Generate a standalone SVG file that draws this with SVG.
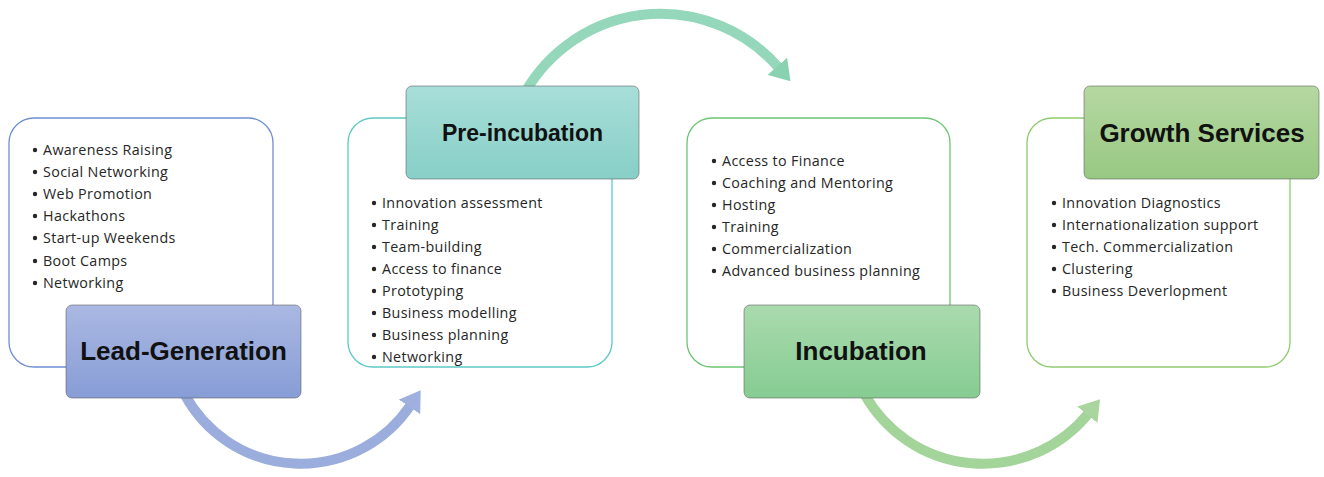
<svg xmlns="http://www.w3.org/2000/svg" width="1324" height="477" viewBox="0 0 1324 477">
<style>
.outer{fill:#fff;stroke-width:1.3}
.hdr{stroke:#5a5a5a;stroke-opacity:.55;stroke-width:1}
.item{font-family:"Open Sans","Liberation Sans",sans-serif;font-size:14.3px;letter-spacing:0.35px;fill:#262626}
.title{font-family:"Liberation Sans",Arial,sans-serif;font-weight:bold;font-size:26px;fill:#111;text-anchor:middle}
.arc{fill:none;stroke-width:10}
.dot{fill:#262626}
</style>
<defs>
<linearGradient id="gBlue" x1="0" y1="0" x2="0" y2="1"><stop offset="0" stop-color="#aab8e2"/><stop offset="1" stop-color="#879dd6"/></linearGradient>
<linearGradient id="gTeal" x1="0" y1="0" x2="0" y2="1"><stop offset="0" stop-color="#a8ded9"/><stop offset="1" stop-color="#87cfc7"/></linearGradient>
<linearGradient id="gGreen" x1="0" y1="0" x2="0" y2="1"><stop offset="0" stop-color="#aadaae"/><stop offset="1" stop-color="#86cc92"/></linearGradient>
<linearGradient id="gLime" x1="0" y1="0" x2="0" y2="1"><stop offset="0" stop-color="#b6d8a2"/><stop offset="1" stop-color="#97c882"/></linearGradient>
<marker id="mBlue" markerUnits="userSpaceOnUse" markerWidth="20" markerHeight="26" viewBox="0 0 20 26" refX="1" refY="13" orient="auto"><path d="M0,0 L20,13 L0,26 z" fill="#9fb0df"/></marker>
<marker id="mTeal" markerUnits="userSpaceOnUse" markerWidth="20" markerHeight="26" viewBox="0 0 20 26" refX="1" refY="13" orient="auto"><path d="M0,0 L20,13 L0,26 z" fill="#88d2b2"/></marker>
<marker id="mGreen" markerUnits="userSpaceOnUse" markerWidth="20" markerHeight="26" viewBox="0 0 20 26" refX="1" refY="13" orient="auto"><path d="M0,0 L20,13 L0,26 z" fill="#aad59e"/></marker>
</defs>
<rect width="1324" height="477" fill="#fff"/>

<g id="connectors">
<path class="arc" d="M185 395 A132 132 0 0 0 410 406" stroke="#9aaddd" marker-end="url(#mBlue)"/>
<path class="arc" d="M521 100 A156 156 0 0 1 778 67" stroke="#95d7bb" marker-end="url(#mTeal)"/>
<path class="arc" d="M865 395 A135.7 135.7 0 0 0 1088 414" stroke="#a3d49a" marker-end="url(#mGreen)"/>
</g>

<g id="lead-generation">
<rect class="outer" x="9" y="118" width="264" height="249" rx="25" stroke="#6f8fd4"/>
<g class="item">
<circle class="dot" cx="35" cy="150" r="2.2"/><text x="43" y="155">Awareness Raising</text>
<circle class="dot" cx="35" cy="172" r="2.2"/><text x="43" y="177">Social Networking</text>
<circle class="dot" cx="35" cy="194" r="2.2"/><text x="43" y="199">Web Promotion</text>
<circle class="dot" cx="35" cy="216" r="2.2"/><text x="43" y="221">Hackathons</text>
<circle class="dot" cx="35" cy="238" r="2.2"/><text x="43" y="243">Start-up Weekends</text>
<circle class="dot" cx="35" cy="261" r="2.2"/><text x="43" y="266">Boot Camps</text>
<circle class="dot" cx="35" cy="283" r="2.2"/><text x="43" y="288">Networking</text>
</g>
<rect class="hdr" x="66" y="305" width="235" height="93" rx="6" fill="url(#gBlue)"/>
<text class="title" x="183.5" y="360">Lead-Generation</text>
</g>

<g id="pre-incubation">
<rect class="outer" x="348" y="118" width="264" height="249" rx="25" stroke="#5ec9c3"/>
<g class="item">
<circle class="dot" cx="374" cy="203" r="2.2"/><text x="382" y="208">Innovation assessment</text>
<circle class="dot" cx="374" cy="225" r="2.2"/><text x="382" y="230">Training</text>
<circle class="dot" cx="374" cy="247" r="2.2"/><text x="382" y="252">Team-building</text>
<circle class="dot" cx="374" cy="269" r="2.2"/><text x="382" y="274">Access to finance</text>
<circle class="dot" cx="374" cy="291" r="2.2"/><text x="382" y="296">Prototyping</text>
<circle class="dot" cx="374" cy="313" r="2.2"/><text x="382" y="318">Business modelling</text>
<circle class="dot" cx="374" cy="335" r="2.2"/><text x="382" y="340">Business planning</text>
<circle class="dot" cx="374" cy="357" r="2.2"/><text x="382" y="362">Networking</text>
</g>
<rect class="hdr" x="406" y="86" width="233" height="93" rx="6" fill="url(#gTeal)"/>
<text class="title" x="522.5" y="141" style="font-size:23px">Pre-incubation</text>
</g>

<g id="incubation">
<rect class="outer" x="687" y="118" width="263" height="249" rx="25" stroke="#6cc673"/>
<g class="item">
<circle class="dot" cx="714" cy="161" r="2.2"/><text x="722" y="166">Access to Finance</text>
<circle class="dot" cx="714" cy="183" r="2.2"/><text x="722" y="188">Coaching and Mentoring</text>
<circle class="dot" cx="714" cy="205" r="2.2"/><text x="722" y="210">Hosting</text>
<circle class="dot" cx="714" cy="227" r="2.2"/><text x="722" y="232">Training</text>
<circle class="dot" cx="714" cy="249" r="2.2"/><text x="722" y="254">Commercialization</text>
<circle class="dot" cx="714" cy="271" r="2.2"/><text x="722" y="276">Advanced business planning</text>
</g>
<rect class="hdr" x="744" y="305" width="236" height="93" rx="6" fill="url(#gGreen)"/>
<text class="title" x="861" y="360">Incubation</text>
</g>

<g id="growth-services">
<rect class="outer" x="1027" y="118" width="263" height="249" rx="25" stroke="#8ecb6e"/>
<g class="item">
<circle class="dot" cx="1054" cy="203" r="2.2"/><text x="1062" y="208">Innovation Diagnostics</text>
<circle class="dot" cx="1054" cy="225" r="2.2"/><text x="1062" y="230">Internationalization support</text>
<circle class="dot" cx="1054" cy="247" r="2.2"/><text x="1062" y="252">Tech. Commercialization</text>
<circle class="dot" cx="1054" cy="269" r="2.2"/><text x="1062" y="274">Clustering</text>
<circle class="dot" cx="1054" cy="291" r="2.2"/><text x="1062" y="296">Business Deverlopment</text>
</g>
<rect class="hdr" x="1084" y="86" width="235" height="93" rx="6" fill="url(#gLime)"/>
<text class="title" x="1202" y="142">Growth Services</text>
</g>
</svg>
